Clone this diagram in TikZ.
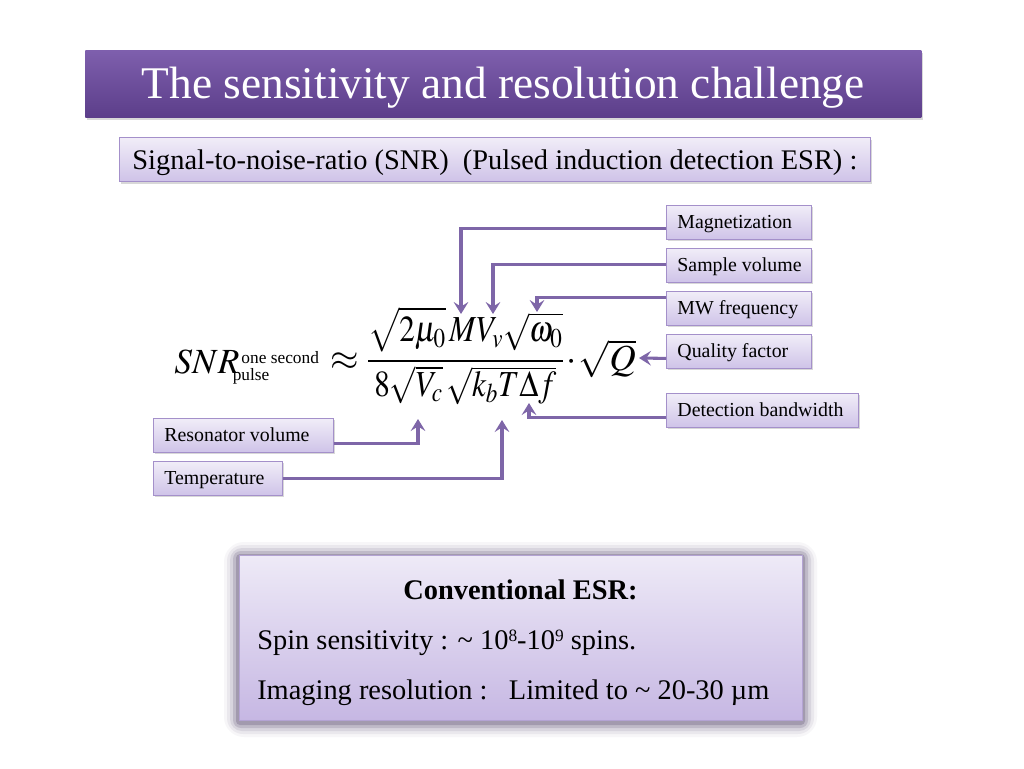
\documentclass[tikz,border=0pt]{standalone}
\usepackage{mathptmx}
\usepackage[no-math]{fontspec}
\setmainfont{Liberation Serif}
\usetikzlibrary{arrows.meta,calc,shadows}
\definecolor{tittop}{HTML}{7E5FAD}
\definecolor{titbot}{HTML}{5C3E8A}
\definecolor{lboxtop}{HTML}{F1EDF8}
\definecolor{lboxbot}{HTML}{CFC3E8}
\definecolor{lboxborder}{HTML}{A490CA}
\definecolor{conncol}{HTML}{7E66A8}
\definecolor{esrtop}{HTML}{EEEAF7}
\definecolor{esrbot}{HTML}{C6B7E3}
\definecolor{esrborder}{HTML}{B3A3D3}
\definecolor{glowcol}{HTML}{7F7590}
\newcommand{\lbltxt}[2]{\makebox[#1][l]{\hspace{8.25pt}#2}}
\newcommand{\supsm}[1]{\raisebox{5.6pt}{\fontsize{13}{13}\selectfont #1}}
\begin{document}
\begin{tikzpicture}[x=0.75pt,y=-0.75pt,
  lbox/.style={draw=lboxborder, line width=0.6pt, top color=lboxtop, bottom color=lboxbot,
    anchor=north west, inner xsep=0pt, inner ysep=0pt, minimum height=25.5pt,
    font=\fontsize{14.9}{17}\selectfont, text height=10.5pt, text depth=1.5pt,
    drop shadow={shadow xshift=1.2pt, shadow yshift=-1.5pt, opacity=0.3}},
  conn/.style={draw=conncol, line width=2.3pt, -{Stealth[length=9pt,width=11pt,inset=3.5pt]}},
  titlebox/.style={top color=tittop, bottom color=titbot, anchor=north west, inner sep=0pt,
    text=white, font=\fontsize{34}{38}\selectfont, text height=23pt, text depth=1.2pt,
    drop shadow={shadow xshift=1pt, shadow yshift=-2pt, opacity=0.3}},
  subbox/.style={draw=lboxborder, line width=0.6pt, top color=lboxtop, bottom color=lboxbot,
    anchor=north west, inner sep=0pt, font=\fontsize{21.3}{24}\selectfont,
    text height=17pt, text depth=1.2pt,
    drop shadow={shadow xshift=1.2pt, shadow yshift=-1.8pt, opacity=0.3}},
  esrbox/.style={draw=esrborder, line width=0.8pt, top color=esrtop, bottom color=esrbot,
    anchor=north west, inner sep=0pt},
  esrtext/.style={inner sep=0pt, font=\fontsize{21.3}{24}\selectfont},
  mathtext/.style={inner sep=0pt, anchor=base west, font=\fontsize{26.5}{30}\selectfont},
  eqtext/.style={inner sep=0pt, anchor=base west, font=\fontsize{27.5}{30}\selectfont}
]
\useasboundingbox (0,0) rectangle (1024,768);
\fill[white] (0,0) rectangle (1024,768);

% title
\node[titlebox, minimum width=627pt, minimum height=50.25pt] (title) at (85,50)
  {The sensitivity and resolution challenge};

% subtitle
\node[subbox, minimum width=563.25pt, minimum height=33pt] (sub) at (119,137)
  {Signal-to-noise-ratio (SNR)\ \ (Pulsed induction detection ESR) :};

% formula
\node[mathtext] (snr) at (174,373)
  {$SNR$\kern1.5pt\makebox[0pt][l]{\raisebox{7.5pt}{\fontsize{13}{13}\selectfont one second}}\kern-6.5pt\raisebox{-5.25pt}{\fontsize{13}{13}\selectfont pulse}};
\node[eqtext] (eq) at (330,370)
  {$\approx$\kern6pt\scalebox{0.85}[1]{$\displaystyle\frac{\raisebox{2.5pt}{$\displaystyle\sqrt{2\mu_0}\,MV_v\sqrt{\omega_0}$}}{8\sqrt{V_c}\,\sqrt{k_bT\Delta f}}$}\kern2pt$\cdot$\kern1.5pt$\textstyle\sqrt{Q}$};

% label boxes
\node[lbox] (mag) at (666,205) {\lbltxt{108.75pt}{Magnetization}};
\node[lbox] (samp) at (666,248) {\lbltxt{108.75pt}{Sample volume}};
\node[lbox] (mwf) at (666,291) {\lbltxt{108.75pt}{MW frequency}};
\node[lbox] (qf) at (666,334) {\lbltxt{108.75pt}{Quality factor}};
\node[lbox] (det) at (666,393) {\lbltxt{144pt}{Detection bandwidth}};
\node[lbox] (res) at (153,418) {\lbltxt{135pt}{Resonator volume}};
\node[lbox] (temp) at (153,461) {\lbltxt{96.75pt}{Temperature}};

% arrow targets
\coordinate (tM) at (461,314);
\coordinate (tVv) at (493,314);
\coordinate (tW) at (537,312);
\coordinate (tQ) at (639,358);
\coordinate (tD) at (529,403);
\coordinate (tVc) at (418,419);
\coordinate (tT) at (502,420);

\draw[conn] ($(mag.west)+(0,6)$) -| (tM);
\draw[conn] ($(samp.west)+(0,-1)$) -| (tVv);
\draw[conn] ($(mwf.west)+(0,-11)$) -| (tW);
\draw[conn] ($(qf.west)+(0,7)$) -- (tQ);
\draw[conn] ($(det.west)+(0,7)$) -| (tD);
\draw[conn] ($(res.east)+(0,8)$) -| (tVc);
\draw[conn] (temp.east) -| (tT);

% conventional ESR box with glow
\foreach \d/\o in {15/0.06, 12/0.1, 9/0.16, 6/0.28, 3/0.45}
  \fill[glowcol, opacity=\o, rounded corners=\d pt] (239-\d,557-\d) rectangle (802+\d,722+\d);
\node[esrbox, minimum width=422.25pt, minimum height=123.75pt] (esr) at (239,555) {};
\node[esrtext, anchor=base, font=\fontsize{21.3}{24}\selectfont\bfseries] (esrhead) at (520.5,599) {Conventional ESR:};
\node[esrtext, anchor=base west] (esrspin) at (257,649) {Spin sensitivity : \textasciitilde\ 10\supsm{8}-10\supsm{9} spins.};
\node[esrtext, anchor=base west] (esrimg) at (257,699) {Imaging resolution :\ \ \ Limited to \textasciitilde\ 20-30 µm};
\end{tikzpicture}
\end{document}
